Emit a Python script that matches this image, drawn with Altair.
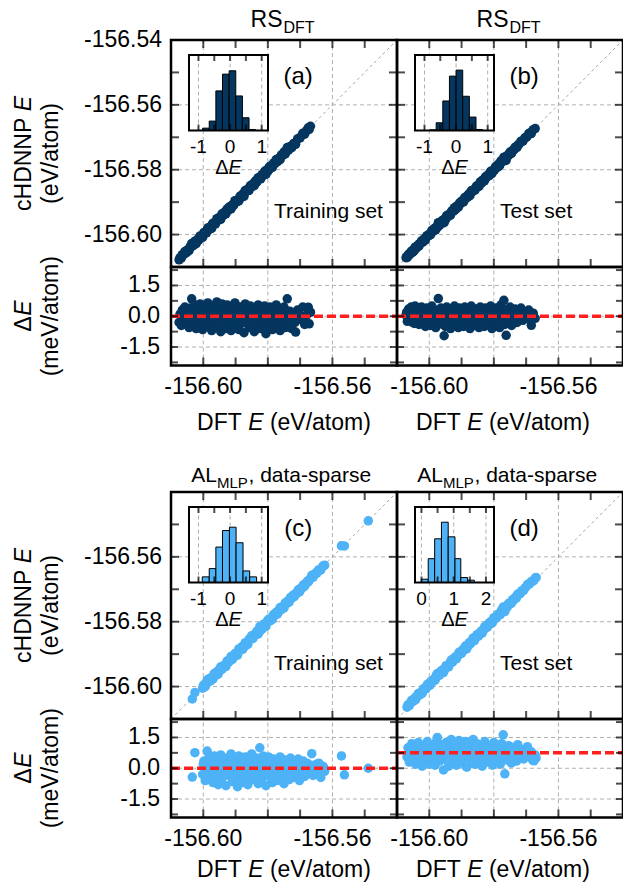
import altair as alt
import pandas as pd

# ----------------------------- data -----------------------------
E_LO, E_HI = -156.61, -156.54          # energy range of parity plots (eV/atom)
R_LO, R_HI = -2.4, 2.4                 # residual range (meV/atom)

# (a) RS_DFT, training set: DFT energy (eV/atom) and residual dE (meV/atom)
A_DFT = [-156.6075, -156.6072, -156.6068, -156.6065, -156.6060, -156.6057, -156.6052, -156.6048,
         -156.6044, -156.6040, -156.6036, -156.6033, -156.6030, -156.6026, -156.6022, -156.6018,
         -156.6014, -156.6010, -156.6006, -156.6002, -156.5998, -156.5994, -156.5990, -156.5986,
         -156.5982, -156.5978, -156.5974, -156.5970, -156.5966, -156.5962, -156.5958, -156.5954,
         -156.5950, -156.5946, -156.5942, -156.5938, -156.5934, -156.5930, -156.5926, -156.5922,
         -156.5918, -156.5914, -156.5910, -156.5906, -156.5902, -156.5898, -156.5894, -156.5890,
         -156.5886, -156.5882, -156.5878, -156.5874, -156.5870, -156.5866, -156.5862, -156.5858,
         -156.5854, -156.5850, -156.5846, -156.5842, -156.5838, -156.5834, -156.5830, -156.5826,
         -156.5822, -156.5818, -156.5814, -156.5810, -156.5806, -156.5802, -156.5798, -156.5794,
         -156.5790, -156.5786, -156.5782, -156.5778, -156.5774, -156.5770, -156.5766, -156.5762,
         -156.5758, -156.5754, -156.5750, -156.5746, -156.5742, -156.5740, -156.5736, -156.5732,
         -156.5726, -156.5720, -156.5714, -156.5708, -156.5700, -156.5692, -156.5686, -156.5680,
         -156.5675, -156.5672, -156.5668,
         -156.6062, -156.6054, -156.6046, -156.6038, -156.6028, -156.6020, -156.6012, -156.6004,
         -156.5996, -156.5988, -156.5980, -156.5972, -156.5964, -156.5956, -156.5948, -156.5940,
         -156.5932, -156.5924, -156.5916, -156.5908, -156.5900, -156.5892, -156.5884, -156.5876,
         -156.5868, -156.5860, -156.5852, -156.5844, -156.5836, -156.5828, -156.5820, -156.5812,
         -156.5804, -156.5796, -156.5788, -156.5780, -156.5772, -156.5764, -156.5756, -156.5748,
         -156.5738, -156.5728, -156.5716, -156.5704, -156.5690]
A_RES = [-0.30, 0.10, -0.45, 0.30, -0.10, 0.45, -0.40, 0.15,
         -0.55, 0.40, 0.85, -0.20, 0.05, 0.55, -0.60, 0.30,
         -0.35, 0.60, -0.05, -0.65, 0.45, 0.10, -0.45, 0.65,
         -0.25, 0.25, -0.70, 0.50, 0.00, -0.50, 0.70, -0.15,
         0.35, -0.75, 0.60, -0.30, 0.15, -0.60, 0.55, -0.05,
         0.40, -0.70, 0.20, -0.40, 0.65, -0.20, 0.05, -0.65,
         0.45, -0.35, 0.30, -0.80, 0.60, -0.10, 0.25, -0.55,
         0.50, -0.25, 0.10, -0.75, 0.40, -0.40, 0.55, 0.00,
         -0.60, 0.35, -0.15, 0.50, -0.85, 0.20, -0.45, 0.45,
         -0.05, -0.65, 0.30, -0.30, 0.55, -0.50, 0.10, -0.70,
         0.35, -0.20, 0.45, -0.55, 0.05, 0.85, -0.35, 0.25,
         -0.60, 0.10, -0.77, 0.30, -0.15, 0.45, -0.40, 0.05,
         0.44, -0.37, 0.20,
         0.00, 0.20, -0.15, 0.10, -0.30, 0.00, 0.20, -0.35,
         -0.10, 0.25, -0.05, 0.30, -0.30, 0.15, -0.40, 0.05,
         0.30, -0.25, 0.10, -0.10, 0.35, -0.35, 0.15, -0.15,
         0.35, -0.35, 0.05, 0.30, -0.20, 0.20, -0.35, 0.10,
         -0.10, 0.25, -0.40, 0.05, 0.20, -0.30, 0.00, 0.20,
         -0.10, 0.05, -0.30, 0.10, -0.10]

# (b) RS_DFT, test set
B_DFT = [-156.6072, -156.6068, -156.6064, -156.6060, -156.6056, -156.6052, -156.6048, -156.6044,
         -156.6040, -156.6036, -156.6032, -156.6028, -156.6024, -156.6020, -156.6016, -156.6012,
         -156.6008, -156.6004, -156.6000, -156.5996, -156.5992, -156.5988, -156.5984, -156.5980,
         -156.5976, -156.5972, -156.5968, -156.5964, -156.5960, -156.5956, -156.5954, -156.5950,
         -156.5946, -156.5942, -156.5938, -156.5934, -156.5930, -156.5926, -156.5922, -156.5918,
         -156.5914, -156.5910, -156.5906, -156.5902, -156.5898, -156.5894, -156.5890, -156.5886,
         -156.5882, -156.5878, -156.5874, -156.5870, -156.5866, -156.5862, -156.5858, -156.5854,
         -156.5850, -156.5846, -156.5842, -156.5838, -156.5834, -156.5830, -156.5826, -156.5822,
         -156.5818, -156.5814, -156.5810, -156.5806, -156.5802, -156.5798, -156.5794, -156.5790,
         -156.5786, -156.5782, -156.5778, -156.5774, -156.5769, -156.5766, -156.5762, -156.5758,
         -156.5754, -156.5750, -156.5745, -156.5740, -156.5734, -156.5728, -156.5722, -156.5716,
         -156.5710, -156.5704, -156.5698, -156.5692, -156.5686, -156.5684, -156.5678, -156.5672,
         -156.6070, -156.6062, -156.6054, -156.6046, -156.6038, -156.6030, -156.6022, -156.6014,
         -156.6006, -156.5998, -156.5990, -156.5982, -156.5974, -156.5966, -156.5958, -156.5948,
         -156.5940, -156.5932, -156.5924, -156.5916, -156.5908, -156.5900, -156.5892, -156.5884,
         -156.5876, -156.5868, -156.5860, -156.5852, -156.5844, -156.5836, -156.5828, -156.5820,
         -156.5812, -156.5804, -156.5796, -156.5788, -156.5780, -156.5772, -156.5764, -156.5756,
         -156.5748, -156.5737, -156.5725, -156.5713, -156.5701, -156.5689]
B_RES = [0.05, -0.25, 0.35, -0.05, 0.45, -0.30, 0.20, 0.50,
         -0.15, 0.30, -0.40, 0.10, 0.45, -0.30, 0.25, -0.50,
         0.40, -0.10, 0.15, -0.45, 0.50, -0.20, 0.30, -0.55,
         0.05, 0.86, -0.35, 0.40, -0.10, 0.20, -0.95, -0.50,
         0.45, -0.25, 0.10, -0.60, 0.35, -0.05, 0.50, -0.40,
         0.15, -0.55, 0.40, -0.15, 0.25, -0.50, 0.45, 0.00,
         -0.35, 0.30, -0.60, 0.50, -0.20, 0.10, -0.45, 0.35,
         -0.05, -0.55, 0.45, -0.25, 0.20, -0.50, 0.40, -0.10,
         0.25, -0.40, 0.50, -0.60, 0.10, -0.30, 0.40, -0.15,
         0.30, -0.55, 0.55, -0.05, 0.78, -0.40, -0.93, 0.25,
         -0.20, 0.45, -0.45, 0.10, 0.35, -0.30, 0.05, 0.40,
         -0.20, 0.20, -0.10, 0.30, 0.00, -0.44, 0.15, -0.10,
         0.20, -0.10, 0.10, -0.35, 0.05, 0.25, -0.10, 0.00,
         0.30, -0.30, 0.05, 0.20, -0.20, 0.10, -0.40, 0.20,
         -0.10, 0.10, -0.30, 0.30, -0.05, 0.10, -0.30, 0.20,
         -0.10, 0.30, -0.30, 0.10, -0.15, 0.30, -0.35, 0.05,
         0.20, -0.20, 0.10, -0.40, 0.15, -0.20, 0.30, -0.05,
         0.10, -0.10, 0.20, 0.00, 0.10, 0.20]

# (c) AL_MLP data-sparse, training set
C_DFT = [-156.6034, -156.6026, -156.6002, -156.5998, -156.5994, -156.5990, -156.5988, -156.5986,
         -156.5982, -156.5978, -156.5974, -156.5970, -156.5966, -156.5962, -156.5958, -156.5954,
         -156.5950, -156.5946, -156.5942, -156.5938, -156.5934, -156.5930, -156.5926, -156.5922,
         -156.5918, -156.5914, -156.5910, -156.5906, -156.5902, -156.5898, -156.5894, -156.5890,
         -156.5886, -156.5882, -156.5878, -156.5874, -156.5870, -156.5866, -156.5862, -156.5858,
         -156.5854, -156.5850, -156.5846, -156.5842, -156.5838, -156.5834, -156.5830, -156.5826,
         -156.5825, -156.5822, -156.5818, -156.5814, -156.5810, -156.5806, -156.5802, -156.5798,
         -156.5794, -156.5790, -156.5786, -156.5782, -156.5778, -156.5774, -156.5770, -156.5766,
         -156.5762, -156.5758, -156.5754, -156.5750, -156.5746, -156.5742, -156.5738, -156.5734,
         -156.5730, -156.5726, -156.5722, -156.5718, -156.5714, -156.5710, -156.5706, -156.5702,
         -156.5698, -156.5694, -156.5690, -156.5686, -156.5682, -156.5678, -156.5674, -156.5668,
         -156.5664, -156.5660, -156.5654, -156.5648, -156.5642, -156.5636, -156.5630, -156.5624,
         -156.5572, -156.5563, -156.5489,
         -156.6000, -156.5992, -156.5984, -156.5976, -156.5968, -156.5960, -156.5952, -156.5944,
         -156.5936, -156.5928, -156.5920, -156.5912, -156.5904, -156.5896, -156.5888, -156.5880,
         -156.5872, -156.5864, -156.5856, -156.5848, -156.5840, -156.5832, -156.5824, -156.5816,
         -156.5808, -156.5800, -156.5792, -156.5784, -156.5776, -156.5768, -156.5760, -156.5752,
         -156.5744, -156.5736, -156.5728, -156.5720, -156.5712, -156.5700, -156.5688, -156.5676,
         -156.5662, -156.5650, -156.5640, -156.5628]
C_RES = [-0.43, 0.76, -0.30, 0.35, -0.60, 0.10, 0.84, -0.15,
         0.55, -0.45, 0.20, -0.70, 0.60, -0.20, 0.35, -0.80,
         0.05, 0.65, -0.50, 0.25, -0.10, -0.85, 0.50, -0.35,
         0.15, 0.70, -0.65, 0.00, 0.40, -0.45, -0.90, 0.60,
         -0.20, 0.30, -0.70, 0.10, 0.55, -0.40, -0.80, 0.45,
         -0.05, 0.70, -0.55, 0.20, -0.25, 0.50, -0.75, 0.05,
         1.00, 0.35, -0.50, 0.60, -0.15, -0.85, 0.25, 0.55,
         -0.35, 0.00, -0.70, 0.45, -0.20, 0.30, -0.60, 0.15,
         0.55, -0.45, 0.05, -0.75, 0.40, -0.25, 0.20, -0.55,
         0.50, -0.10, 0.30, -0.45, 0.10, -0.30, 0.45, -0.60,
         0.20, -0.15, 0.35, -0.40, 0.05, 0.25, -0.25, 0.15,
         0.71, -0.35, 0.05, -0.20, 0.25, -0.45, 0.10, -0.15,
         0.60, -0.32, 0.00,
         0.20, -0.30, 0.05, 0.35, -0.10, -0.45, 0.30, 0.00,
         -0.35, 0.15, -0.20, 0.30, -0.40, 0.10, -0.10, 0.25,
         -0.45, 0.00, 0.20, -0.30, 0.10, -0.10, -0.40, 0.15,
         -0.20, 0.35, -0.45, 0.00, 0.20, -0.35, 0.10, -0.20,
         0.30, -0.40, 0.00, 0.20, -0.15, -0.35, 0.10, -0.10,
         0.00, 0.20, -0.10, 0.05]

# (d) AL_MLP data-sparse, test set
D_DFT = [-156.6069, -156.6066, -156.6062, -156.6058, -156.6054, -156.6050, -156.6046, -156.6042,
         -156.6038, -156.6034, -156.6030, -156.6026, -156.6022, -156.6018, -156.6014, -156.6010,
         -156.6006, -156.6002, -156.5998, -156.5994, -156.5990, -156.5986, -156.5982, -156.5978,
         -156.5975, -156.5972, -156.5968, -156.5964, -156.5960, -156.5956, -156.5952, -156.5948,
         -156.5944, -156.5940, -156.5936, -156.5932, -156.5928, -156.5924, -156.5920, -156.5916,
         -156.5912, -156.5908, -156.5904, -156.5900, -156.5896, -156.5892, -156.5888, -156.5884,
         -156.5880, -156.5876, -156.5872, -156.5868, -156.5864, -156.5860, -156.5856, -156.5852,
         -156.5848, -156.5844, -156.5840, -156.5836, -156.5832, -156.5828, -156.5824, -156.5820,
         -156.5816, -156.5812, -156.5808, -156.5804, -156.5800, -156.5796, -156.5792, -156.5788,
         -156.5784, -156.5780, -156.5776, -156.5771, -156.5768, -156.5766, -156.5762, -156.5758,
         -156.5754, -156.5750, -156.5746, -156.5742, -156.5738, -156.5734, -156.5730, -156.5726,
         -156.5720, -156.5714, -156.5708, -156.5702, -156.5696, -156.5690, -156.5684, -156.5680,
         -156.5676, -156.5672, -156.5669,
         -156.6064, -156.6056, -156.6048, -156.6040, -156.6032, -156.6024, -156.6016, -156.6008,
         -156.6000, -156.5992, -156.5984, -156.5976, -156.5966, -156.5958, -156.5950, -156.5942,
         -156.5934, -156.5926, -156.5918, -156.5910, -156.5902, -156.5894, -156.5886, -156.5878,
         -156.5870, -156.5862, -156.5854, -156.5846, -156.5838, -156.5830, -156.5822, -156.5814,
         -156.5806, -156.5798, -156.5790, -156.5782, -156.5774, -156.5764, -156.5756, -156.5748,
         -156.5740, -156.5728, -156.5716, -156.5704, -156.5692]
D_RES = [0.55, 1.00, 0.30, 0.80, 1.20, 0.45, 0.95, 0.20,
         0.70, 1.25, 0.40, 0.85, 0.10, 1.10, 0.60, 0.30,
         1.30, 0.75, 0.20, 1.05, 0.50, 0.90, 0.15, 1.30,
         1.50, 0.65, 0.35, 1.15, 0.80, -0.08, 0.45, 1.25,
         0.60, 0.10, 0.95, 1.40, 0.30, 0.75, 1.10, 0.15,
         0.55, 1.35, 0.85, 0.25, 1.00, 0.50, 1.30, 0.05,
         0.70, 1.15, 0.40, 0.90, 1.40, 0.20, 0.65, 1.20,
         0.35, 0.85, 1.05, 0.10, 0.55, 1.30, 0.75, 0.30,
         1.10, 0.50, 0.95, 0.15, 1.25, 0.60, 0.35, 1.00,
         0.80, 0.20, 1.20, 1.63, 0.55, -0.27, 0.90, 0.40,
         1.10, 0.70, 0.25, 1.00, 0.55, 0.85, 0.35, 1.15,
         0.60, 0.90, 0.45, 0.75, 1.05, 0.55, 0.80, 0.40,
         0.36, 0.65, 0.50,
         0.65, 0.95, 0.50, 0.90, 0.70, 0.45, 0.95, 0.60,
         1.00, 0.70, 0.40, 0.90, 0.55, 1.00, 0.70, 0.35,
         0.80, 1.10, 0.60, 0.90, 0.45, 0.75, 1.05, 0.50,
         0.85, 0.60, 0.95, 0.45, 0.75, 1.00, 0.50, 0.80,
         0.65, 0.95, 0.50, 0.75, 0.95, 0.60, 0.85, 0.50,
         0.75, 0.90, 0.60, 0.75, 0.85]

MEAN_RES = [0.0, 0.0, 0.0, 0.76]      # red dashed line (mean residual) for (a)-(d)

# inset histograms of dE: bin edges and (relative) counts
HA_LO = [-0.87, -0.66, -0.45, -0.24, -0.03, 0.18, 0.39, 0.60]
HA_HI = [-0.66, -0.45, -0.24, -0.03, 0.18, 0.39, 0.60, 0.81]
HA_N = [7, 28, 118, 168, 178, 103, 38, 3]
HB_LO = [-0.84, -0.63, -0.42, -0.21, 0.00, 0.21, 0.42, 0.63]
HB_HI = [-0.63, -0.42, -0.21, 0.00, 0.21, 0.42, 0.63, 0.84]
HB_N = [2, 23, 88, 162, 180, 102, 40, 3]
HC_LO = [-0.88, -0.66, -0.45, -0.24, -0.02, 0.19, 0.41, 0.62]
HC_HI = [-0.66, -0.45, -0.24, -0.02, 0.19, 0.41, 0.62, 0.84]
HC_N = [17, 42, 107, 157, 167, 120, 35, 17]
HD_LO = [0.00, 0.21, 0.41, 0.62, 0.83, 1.04, 1.22, 1.43]
HD_HI = [0.21, 0.41, 0.62, 0.83, 1.04, 1.22, 1.43, 1.64]
HD_N = [10, 72, 132, 182, 138, 72, 15, 7]
H_TOP = [225, 225, 228, 228]

INSET_DOM = [[-1.3, 1.2], [-1.3, 1.2], [-1.3, 1.2], [-0.2, 2.25]]
INSET_TICKS = [[-1, -0.5, 0, 0.5, 1]] * 3 + [[0, 0.5, 1, 1.5, 2]]
INSET_LABS = [["-1", "0", "1"]] * 3 + [["0", "1", "2"]]

MAIN_TICKS = [-156.60, -156.59, -156.58, -156.57, -156.56, -156.55]
MAIN_GRID = [-156.60, -156.58, -156.56]
MAIN_YLAB = [["-156.54", "-156.56", "-156.58", "-156.60"], ["-156.56", "-156.58", "-156.60"]]
X_LAB = ["-156.60", "-156.56"]
RES_TICKS = [-2.25, -1.5, -0.75, 0.0, 0.75, 1.5, 2.25]
RES_GRID = [-1.5, 0.0, 1.5]
RES_LAB = ["1.5", "0.0", "-1.5"]

LETTERS = ["(a)", "(b)", "(c)", "(d)"]
SETS = ["Training set", "Test set", "Training set", "Test set"]

# ----------------------------- style / layout -----------------------------
FONT = "Liberation Sans"
NAVY = "#04365f"
SKY = "#4db2f6"
GRIDC = "#b0b0b0"
PT_SIZE = 90
COL_LEFT = [171, 397]
PANEL_W = 226
ROW_TOP = [40, 492]
MAIN_H = 227
RES_H = 98.5
ONE = pd.DataFrame({"k": [0]})


def sc(dom, rng):
    return alt.Scale(domain=dom, range=rng, nice=False, zero=False)


def fx(f, s):
    return alt.X(f, type="quantitative", scale=s, axis=None)


def fy(f, s):
    return alt.Y(f, type="quantitative", scale=s, axis=None)


def dx(v, s):
    return alt.XDatum(v, type="quantitative", scale=s, axis=None)


def dy(v, s):
    return alt.YDatum(v, type="quantitative", scale=s, axis=None)


def grid_layers(xvals, yvals, xs, ys, xdom, ydom):
    out = []
    out.append(alt.Chart(pd.DataFrame({"v": xvals})).mark_rule(
        color=GRIDC, strokeDash=[4, 3], strokeWidth=1).encode(
        x=fx("v:Q", xs), y=dy(ydom[0], ys), y2=alt.Y2Datum(ydom[1])))
    if yvals:
        out.append(alt.Chart(pd.DataFrame({"v": yvals})).mark_rule(
            color=GRIDC, strokeDash=[4, 3], strokeWidth=1).encode(
            y=fy("v:Q", ys), x=dx(xdom[0], xs), x2=alt.X2Datum(xdom[1])))
    return out


def frame(xs, ys, xdom, ydom, sw):
    return alt.Chart(ONE).mark_rect(fillOpacity=0, stroke="black", strokeWidth=sw).encode(
        x=dx(xdom[0], xs), x2=alt.X2Datum(xdom[1]), y=dy(ydom[0], ys), y2=alt.Y2Datum(ydom[1]))


def xticks(vals, xs, ys, at, inward, size):
    return alt.Chart(pd.DataFrame({"v": vals})).mark_tick(
        orient="vertical", size=size, thickness=2, color="black", yOffset=inward * size / 2).encode(
        x=fx("v:Q", xs), y=dy(at, ys))


def yticks(vals, xs, ys, at, inward, size):
    return alt.Chart(pd.DataFrame({"v": vals})).mark_tick(
        orient="horizontal", size=size, thickness=2, color="black", xOffset=inward * size / 2).encode(
        y=fy("v:Q", ys), x=dx(at, xs))


def main_group(i, dft, res, color):
    col, row = i % 2, i // 2
    L, T = COL_LEFT[col], ROW_TOP[row]
    xs = sc([E_LO, E_HI], [L, L + PANEL_W])
    ys = sc([E_LO, E_HI], [T + MAIN_H, T])
    pts = pd.DataFrame({"dft": dft, "res": res})
    pts["pred"] = pts["dft"] + pts["res"] / 1000.0
    dom = [E_LO, E_HI]
    layers = grid_layers(MAIN_GRID, MAIN_GRID, xs, ys, dom, dom)
    layers.append(alt.Chart(pd.DataFrame({"v": dom})).mark_line(
        color="#a8a8a8", strokeDash=[3, 3], strokeWidth=1).encode(x=fx("v:Q", xs), y=fy("v:Q", ys)))
    layers.append(alt.Chart(pts).mark_circle(size=PT_SIZE, color=color, opacity=1).encode(
        x=fx("dft:Q", xs), y=fy("pred:Q", ys)))
    layers.append(alt.Chart(ONE).mark_text(text=LETTERS[i], font=FONT, fontSize=24,
                                           baseline="middle", align="center").encode(
        x=dx(-156.5706, xs), y=dy(-156.5514, ys)))
    layers.append(alt.Chart(ONE).mark_text(text=SETS[i], font=FONT, fontSize=21,
                                           baseline="middle", align="left").encode(
        x=dx(-156.5781, xs), y=dy(-156.5929, ys)))
    layers.append(frame(xs, ys, dom, dom, 2.5))
    layers.append(xticks(MAIN_TICKS, xs, ys, E_HI, 1, 8))
    layers.append(xticks(MAIN_TICKS, xs, ys, E_LO, -1, 8))
    layers.append(yticks(MAIN_TICKS, xs, ys, E_LO, 1, 8))
    layers.append(yticks(MAIN_TICKS, xs, ys, E_HI, -1, 8))
    if col == 0:
        labs = MAIN_YLAB[row]
        ldf = pd.DataFrame({"lab": labs, "v": [float(s) for s in labs]})
        layers.append(alt.Chart(ldf).mark_text(font=FONT, fontSize=23, align="right",
                                               baseline="middle", dx=-9).encode(
            y=fy("v:Q", ys), x=dx(E_LO, xs), text="lab:N"))
    return alt.layer(*layers)


def res_group(i, dft, res, color):
    col, row = i % 2, i // 2
    L, T = COL_LEFT[col], ROW_TOP[row] + MAIN_H
    xs = sc([E_LO, E_HI], [L, L + PANEL_W])
    ys = sc([R_LO, R_HI], [T + RES_H, T])
    pts = pd.DataFrame({"dft": dft, "res": res})
    layers = grid_layers(MAIN_GRID, RES_GRID, xs, ys, [E_LO, E_HI], [R_LO, R_HI])
    layers.append(alt.Chart(pts).mark_circle(size=PT_SIZE, color=color, opacity=1).encode(
        x=fx("dft:Q", xs), y=fy("res:Q", ys)))
    layers.append(alt.Chart(ONE).mark_rule(color="#ff1f1f", strokeDash=[9, 4], strokeWidth=3.5).encode(
        x=dx(E_LO, xs), x2=alt.X2Datum(E_HI), y=dy(MEAN_RES[i], ys)))
    layers.append(frame(xs, ys, [E_LO, E_HI], [R_LO, R_HI], 2.5))
    layers.append(xticks(MAIN_TICKS, xs, ys, R_LO, -1, 8))
    layers.append(yticks(RES_TICKS, xs, ys, E_LO, 1, 7))
    layers.append(yticks(RES_TICKS, xs, ys, E_HI, -1, 7))
    xl = pd.DataFrame({"lab": X_LAB, "v": [float(s) for s in X_LAB]})
    layers.append(alt.Chart(xl).mark_text(font=FONT, fontSize=23, align="center",
                                          baseline="middle", dy=21.5).encode(
        x=fx("v:Q", xs), y=dy(R_LO, ys), text="lab:N"))
    if col == 0:
        yl = pd.DataFrame({"lab": RES_LAB, "v": [float(s) for s in RES_LAB]})
        layers.append(alt.Chart(yl).mark_text(font=FONT, fontSize=23, align="right",
                                              baseline="middle", dx=-11).encode(
            y=fy("v:Q", ys), x=dx(E_LO, xs), text="lab:N"))
    return alt.layer(*layers)


def inset_group(i, lo, hi, n, color):
    col, row = i % 2, i // 2
    L, T = COL_LEFT[col] + 18, ROW_TOP[row] + 15
    dom = INSET_DOM[i]
    ytop = H_TOP[i]
    xs = sc(dom, [L, L + 79])
    ys = sc([0, ytop], [T + 75.5, T])
    layers = [alt.Chart(ONE).mark_rect(color="white").encode(
        x=dx(dom[0], xs), x2=alt.X2Datum(dom[1]), y=dy(0, ys), y2=alt.Y2Datum(ytop))]
    labv = [float(s) for s in INSET_LABS[i]]
    layers += grid_layers(labv, [], xs, ys, dom, [0, ytop])
    bars = pd.DataFrame({"lo": lo, "hi": hi, "n": n})
    layers.append(alt.Chart(bars).mark_rect(color=color, stroke="black", strokeWidth=1).encode(
        x=fx("lo:Q", xs), x2="hi:Q", y=fy("n:Q", ys), y2=alt.Y2Datum(0)))
    layers.append(frame(xs, ys, dom, [0, ytop], 2))
    layers.append(xticks(INSET_TICKS[i], xs, ys, ytop, 1, 6))
    layers.append(xticks(INSET_TICKS[i], xs, ys, 0, -1, 6))
    ldf = pd.DataFrame({"lab": INSET_LABS[i], "v": labv})
    layers.append(alt.Chart(ldf).mark_text(font=FONT, fontSize=19, align="center",
                                           baseline="middle", dy=16).encode(
        x=fx("v:Q", xs), y=dy(0, ys), text="lab:N"))
    mid = (dom[0] + dom[1]) / 2
    layers.append(alt.Chart(ONE).mark_text(text="Δ", font=FONT, fontSize=20, align="right",
                                           baseline="middle", dy=37).encode(
        x=dx(mid, xs), y=dy(0, ys)))
    layers.append(alt.Chart(ONE).mark_text(text="E", font=FONT, fontSize=20, fontStyle="italic",
                                           align="left", baseline="middle", dy=37).encode(
        x=dx(mid, xs), y=dy(0, ys)))
    return alt.layer(*layers)


def txt(s, x, y, size=23, align="center", baseline="middle", angle=0, italic=False):
    kw = dict(text=s, font=FONT, fontSize=size, align=align, baseline=baseline)
    if angle:
        kw["angle"] = angle
    if italic:
        kw["fontStyle"] = "italic"
    return alt.Chart(ONE).mark_text(**kw).encode(x=alt.value(x), y=alt.value(y))


def static_text():
    t = []
    # panel titles
    for col in range(2):
        L = COL_LEFT[col]
        x0 = L + 111.5
        t.append(txt("RS", x0, 27, size=23, align="right", baseline="alphabetic"))
        t.append(txt("DFT", x0 + 1, 33, size=16, align="left", baseline="alphabetic"))
        x1 = L + 46
        t.append(txt("AL", x1, 481.5, size=21, align="right", baseline="alphabetic"))
        t.append(txt("MLP", x1, 487.5, size=15, align="left", baseline="alphabetic"))
        t.append(txt(", data-sparse", x1 + 31.5, 481.5, size=21, align="left", baseline="alphabetic"))
    # y-axis titles
    for row in range(2):
        T = ROW_TOP[row]
        yc = T + MAIN_H / 2
        t.append(txt("E", 24, yc - 42.2, align="left", angle=270, italic=True))
        t.append(txt("cHDNNP", 24, yc - 35.8, align="right", angle=270))
        t.append(txt("(eV/atom)", 51, yc, angle=270))
        yr = T + MAIN_H + RES_H / 2
        t.append(txt("Δ", 24, yr, align="right", angle=270))
        t.append(txt("E", 24, yr - 0.5, align="left", angle=270, italic=True))
        t.append(txt("(meV/atom)", 51, yr, angle=270))
    # x-axis titles
    for row, yv in enumerate([423, 870]):
        for xc in [284, 503]:
            t.append(txt("DFT", xc - 42.2, yv, align="right"))
            t.append(txt("E", xc - 28.1, yv, italic=True))
            t.append(txt("(eV/atom)", xc - 14.1, yv, align="left"))
    return alt.layer(*t)


groups = []
DATA = [(A_DFT, A_RES, NAVY), (B_DFT, B_RES, NAVY), (C_DFT, C_RES, SKY), (D_DFT, D_RES, SKY)]
HIST = [(HA_LO, HA_HI, HA_N), (HB_LO, HB_HI, HB_N), (HC_LO, HC_HI, HC_N), (HD_LO, HD_HI, HD_N)]
for i, (d, r, c) in enumerate(DATA):
    groups.append(main_group(i, d, r, c))
for i, (d, r, c) in enumerate(DATA):
    groups.append(res_group(i, d, r, c))
for i, (lo, hi, n) in enumerate(HIST):
    groups.append(inset_group(i, lo, hi, n, DATA[i][2]))
groups.append(static_text())

chart = alt.layer(*groups).resolve_scale(x="independent", y="independent").properties(
    width=623, height=886, padding=0, autosize=alt.AutoSizeParams(type="none")
).configure_view(stroke=None)

chart.save("out.html", embed_options={"renderer": "svg", "actions": False})
